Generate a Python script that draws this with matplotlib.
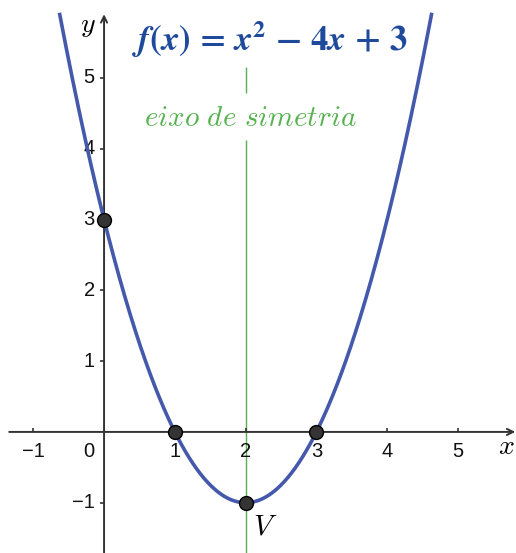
import numpy as np
import matplotlib
matplotlib.use("Agg")
from matplotlib import pyplot as plt

# f(x) = a x^2 + b x + c
coef_a, coef_b, coef_c = 1, -4, 3
key_x = [0, 1, 3, 2]          # y-intercept, roots, vertex
key_y = [3, 0, 0, -1]
xticks = [-1, 1, 2, 3, 4, 5]
yticks = [-1, 1, 2, 3, 4, 5]
axis_of_symmetry = 2

curve_col = "#4459ab"
title_col = "#1f4a9c"
green = "#55b24f"
axis_col = "#333333"

xmin, xmax = -1.47, 5.82
ymin, ymax = -1.71, 6.10
y_clip = 5.92

fig = plt.figure(figsize=(5.16, 5.53), dpi=100)
ax = fig.add_axes([0, 0, 1, 1])
ax.set_xlim(xmin, xmax)
ax.set_ylim(ymin, ymax)
ax.axis("off")

# axes with arrows
ax.annotate("", xy=(xmax - 0.01, 0), xytext=(-1.34, 0),
            arrowprops=dict(arrowstyle="->,head_length=0.45,head_width=0.22",
                            color=axis_col, lw=1.4, shrinkA=0, shrinkB=0),
            zorder=2)
ax.annotate("", xy=(0, 5.90), xytext=(0, ymin),
            arrowprops=dict(arrowstyle="->,head_length=0.45,head_width=0.22",
                            color=axis_col, lw=1.4, shrinkA=0, shrinkB=0),
            zorder=2)

tk = 0.055
ax.vlines(xticks, 0, tk, color=axis_col, lw=1.2)
ax.hlines(yticks, -tk, 0, color=axis_col, lw=1.2)

lab_font = dict(family="Liberation Sans", fontsize=14.5, color="#111111")
for t in xticks:
    ax.text(t, -0.27, "\u2212%d" % -t if t < 0 else str(t), ha="center", va="center", **lab_font)
for t in yticks:
    ax.text(-0.13, t, "\u2212%d" % -t if t < 0 else str(t), ha="right", va="center", **lab_font)
ax.text(-0.22, -0.27, "0", ha="center", va="center", **lab_font)

ax.text(-0.23, 5.74, r"$y$", fontsize=20, ha="center", va="center", math_fontfamily="cm")
ax.text(5.68, -0.2, r"$x$", fontsize=20, ha="center", va="center", math_fontfamily="cm")

# axis of symmetry with a gap for its label
ax.vlines([axis_of_symmetry] * 2, [ymin, 4.79], [4.12, 5.155], color=green, lw=1.0, zorder=1)
ax.text(2.07, 4.43, r"$\mathit{eixo\ de\ simetria}$", color=green, fontsize=21,
        ha="center", va="center", math_fontfamily="cm")

# parabola
half = np.sqrt((y_clip - (coef_c - coef_b ** 2 / (4 * coef_a))) / coef_a)
xv = -coef_b / (2 * coef_a)
xs = np.linspace(xv - half, xv + half, 400)
ax.plot(xs, coef_a * xs ** 2 + coef_b * xs + coef_c, color=curve_col, lw=2.6,
        solid_capstyle="butt", zorder=3)

ax.plot(key_x, key_y, "o", ms=10, mfc="#343434", mec="#000000", mew=1.0, zorder=4)

ax.text(2.27, -1.34, r"$V$", fontsize=21, ha="center", va="center", math_fontfamily="cm")

ax.text(2.35, 5.55,
        r"$\mathbfit{f}\mathbf{(}\mathbfit{x}\mathbf{)}\mathbf{\,=\,}\mathbfit{x}^{\mathbf{2}}"
        r"\mathbf{\,-\,4}\mathbfit{x}\mathbf{\,+\,3}$",
        color=title_col, fontsize=25, ha="center", va="center", math_fontfamily="stix")

fig.savefig("out.png", dpi=100)
